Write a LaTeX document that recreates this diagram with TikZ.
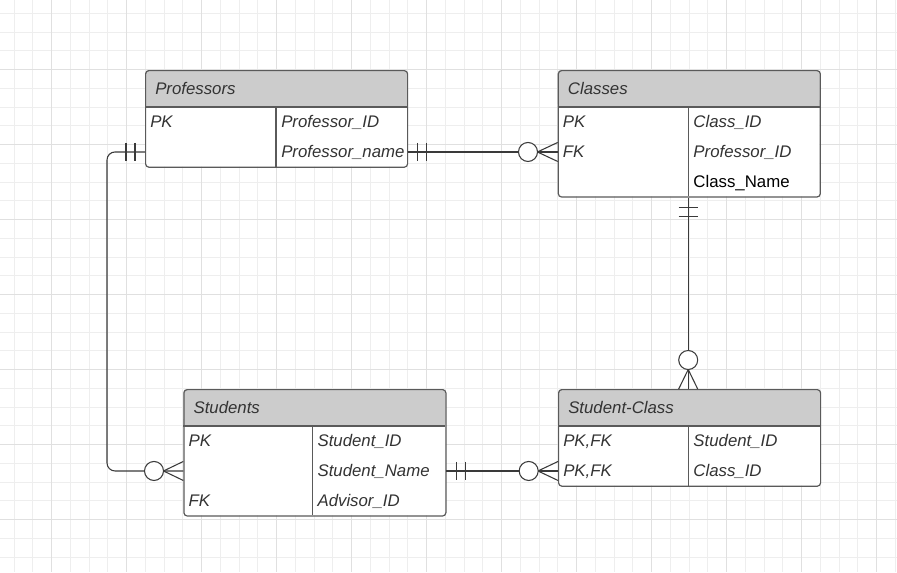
\documentclass[tikz,border=0pt]{standalone}
\usepackage{fontspec}
\setmainfont{Liberation Sans}
\usetikzlibrary{calc}
\definecolor{gridminor}{HTML}{EEEEEE}
\definecolor{gridmajor}{HTML}{E0E0E0}
\definecolor{framec}{HTML}{5A5A5A}
\definecolor{hdrc}{HTML}{CCCCCC}
\definecolor{txtc}{HTML}{333333}
\definecolor{connc}{HTML}{3A3A3A}
\tikzset{
  tblframe/.style={draw=framec, line width=0.9pt, rounded corners=2.5pt, inner sep=0pt,
    minimum width={262*0.75pt}, anchor=north west},
  rowcell/.style={inner sep=0pt, minimum width={262*0.75pt}, minimum height={29.8*0.75pt}, anchor=north west},
  ttl/.style={font=\itshape\fontsize{12.6}{15}\selectfont, text=txtc, anchor=base west, inner sep=0pt},
  attr/.style={font=\itshape\fontsize{12.6}{15}\selectfont, text=txtc, anchor=base west, inner sep=0pt},
  plainattr/.style={font=\fontsize{12.6}{15}\selectfont, text=black, anchor=base west, inner sep=0pt},
  sepline/.style={draw=framec, line width=0.9pt},
  conn/.style={draw=connc, line width=0.8pt},
  ring/.style={draw=connc, line width=0.8pt, fill=white, circle, inner sep=0pt, minimum size={19*0.75pt}},
}
% #1 name, #2 x, #3 y, #4 divider offset, #5 rows, #6 title
\newcommand\ertable[6]{%
  \fill[white, rounded corners=2.5pt] (#2,#3) rectangle (#2+262,#3+37+#5*29.8);
  \fill[hdrc, rounded corners=2.5pt] (#2,#3) rectangle (#2+262,#3+37);
  \fill[hdrc] (#2,#3+30) rectangle (#2+262,#3+37);
  \node[tblframe, minimum height={(37+#5*29.8)*0.75pt}] (#1) at (#2,#3) {};
  \draw[sepline] (#2,#3+37) -- (#2+262,#3+37);
  \draw[sepline] (#2+#4,#3+37) -- (#2+#4,#3+37+#5*29.8);
  \coordinate (#1-div) at (#2+#4,#3);
  \node[ttl] (#1-t) at (#2+10,#3+18.5+6) {#6};
}
% #1 name, #2 index, #3 x, #4 y, #5 div, #6 key, #7 field, #8 field style
\newcommand\errow[8]{%
  \node[rowcell] (#1-#2) at (#3,#4+37+#2*29.8-29.8) {};
  \node[attr] (#1-#2k) at (#3+5,#4+37+#2*29.8-14.9+6) {#6};
  \node[#8] (#1-#2f) at (#3+#5+5,#4+37+#2*29.8-14.9+6) {#7};
}
\begin{document}
\begin{tikzpicture}[x=0.75pt,y=-0.75pt]
\useasboundingbox (0,0) rectangle (897,572);
\fill[white] (0,0) rectangle (897,572);
% grid
\foreach \k in {0,...,47} {\draw[gridminor, line width=0.75pt] (14+18.75*\k,0) -- (14+18.75*\k,572);}
\foreach \k in {0,...,29} {\draw[gridminor, line width=0.75pt] (0,13.3+18.75*\k) -- (897,13.3+18.75*\k);}
\foreach \k in {2,6,...,46} {\draw[gridmajor, line width=0.75pt] (14+18.75*\k,0) -- (14+18.75*\k,572);}
\foreach \k in {3,7,...,27} {\draw[gridmajor, line width=0.75pt] (0,13.3+18.75*\k) -- (897,13.3+18.75*\k);}

% tables
\ertable{prof}{145}{70}{131}{2}{Professors}
\errow{prof}{1}{145}{70}{131}{PK}{Professor\_ID}{attr}
\errow{prof}{2}{145}{70}{131}{}{Professor\_name}{attr}

\ertable{cls}{557.7}{70}{130.5}{3}{Classes}
\errow{cls}{1}{557.7}{70}{130.5}{PK}{Class\_ID}{attr}
\errow{cls}{2}{557.7}{70}{130.5}{FK}{Professor\_ID}{attr}
\errow{cls}{3}{557.7}{70}{130.5}{}{Class\_Name}{plainattr}

\ertable{stu}{183.3}{389}{129}{3}{Students}
\errow{stu}{1}{183.3}{389}{129}{PK}{Student\_ID}{attr}
\errow{stu}{2}{183.3}{389}{129}{}{Student\_Name}{attr}
\errow{stu}{3}{183.3}{389}{129}{FK}{Advisor\_ID}{attr}

\ertable{sc}{558}{389}{130.2}{2}{Student-Class}
\errow{sc}{1}{558}{389}{130.2}{PK,FK}{Student\_ID}{attr}
\errow{sc}{2}{558}{389}{130.2}{PK,FK}{Class\_ID}{attr}

% Professors -> Classes
\draw[conn] (prof-2.east) -- (cls-2.west);
\draw[conn] ($(prof-2.east)+(9.5,-9)$) -- ++(0,18);
\draw[conn] ($(prof-2.east)+(18.5,-9)$) -- ++(0,18);
\draw[conn] ($(cls-2.west)+(-20.3,0)$) -- ($(cls-2.west)+(0,-9.5)$);
\draw[conn] ($(cls-2.west)+(-20.3,0)$) -- ($(cls-2.west)+(0,9.5)$);
\node[ring] (r1) at ($(cls-2.west)+(-29.7,0)$) {};

% Professors -> Students
\draw[conn, rounded corners=6pt] (prof-2.west) -- ++(-38,0) |- (stu-2.west);
\draw[conn] ($(prof-2.west)+(-10,-9)$) -- ++(0,18);
\draw[conn] ($(prof-2.west)+(-19,-9)$) -- ++(0,18);
\draw[conn] ($(stu-2.west)+(-19.8,0)$) -- ($(stu-2.west)+(0,-9.5)$);
\draw[conn] ($(stu-2.west)+(-19.8,0)$) -- ($(stu-2.west)+(0,9.5)$);
\node[ring] (r2) at ($(stu-2.west)+(-29.3,0)$) {};

% Classes -> Student-Class
\coordinate (c3top) at (cls.south -| cls-div);
\coordinate (c3bot) at (sc.north -| cls-div);
\draw[conn] (c3top) -- (c3bot);
\draw[conn] ($(c3top)+(-9.5,10)$) -- ++(19,0);
\draw[conn] ($(c3top)+(-9.5,19.3)$) -- ++(19,0);
\draw[conn] ($(c3bot)+(0,-19.5)$) -- ($(c3bot)+(-9.5,0)$);
\draw[conn] ($(c3bot)+(0,-19.5)$) -- ($(c3bot)+(9.5,0)$);
\node[ring] (r3) at ($(c3bot)+(0,-29)$) {};

% Students -> Student-Class
\draw[conn] (stu-2.east) -- (sc-2.west);
\draw[conn] ($(stu-2.east)+(10.4,-9)$) -- ++(0,18);
\draw[conn] ($(stu-2.east)+(19.7,-9)$) -- ++(0,18);
\draw[conn] ($(sc-2.west)+(-20,0)$) -- ($(sc-2.west)+(0,-9.5)$);
\draw[conn] ($(sc-2.west)+(-20,0)$) -- ($(sc-2.west)+(0,9.5)$);
\node[ring] (r4) at ($(sc-2.west)+(-29.3,0)$) {};
\end{tikzpicture}
\end{document}
